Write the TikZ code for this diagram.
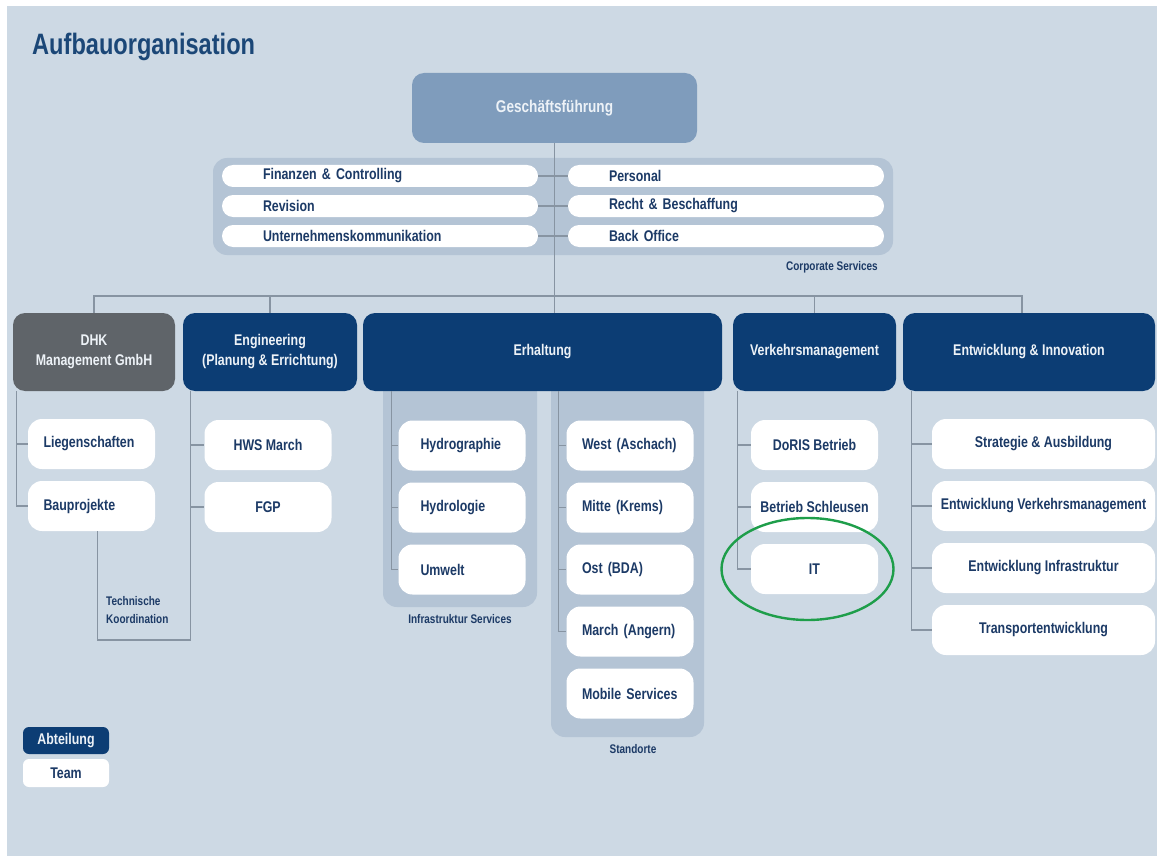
\documentclass[tikz,border=0pt]{standalone}
\usepackage{fontspec}
\setmainfont{Liberation Sans}[FakeStretch=0.8]
\usetikzlibrary{positioning,calc}

\definecolor{hintergrund}{HTML}{CDD9E4}
\definecolor{gruppenblau}{HTML}{B4C4D5}
\definecolor{dunkelblau}{HTML}{0C3D74}
\definecolor{dhkgrau}{HTML}{5F6469}
\definecolor{gfblau}{HTML}{7F9CBC}
\definecolor{liniengrau}{HTML}{8794A2}
\definecolor{teamblau}{HTML}{1C3A66}
\definecolor{titelblau}{HTML}{1B4777}
\definecolor{hellweiss}{HTML}{EDF2F7}
\definecolor{kreisgruen}{HTML}{1E9E4A}

\begin{document}
\begin{tikzpicture}[x=1pt, y=-1pt, node distance=62pt,
    font=\bfseries\fontsize{15.5}{20}\selectfont,
    linie/.style={draw=liniengrau, line width=1.1pt},
    gruppe/.style={fill=gruppenblau, rounded corners=14pt},
    abteilung/.style={fill=dunkelblau, text=hellweiss, rounded corners=12pt,
      minimum height=78pt, minimum width=#1, inner sep=0pt, align=center},
    team/.style={fill=white, text=teamblau, rounded corners=14pt,
      minimum width=#1, minimum height=50pt, inner sep=0pt},
    team/.default=127pt,
    teamlinks/.style={team, inner xsep=15.5pt, text width=96pt, align=left},
    infrateam/.style={team, inner xsep=22pt, text width=83pt, align=left},
    stab/.style={fill=white, text=teamblau, rounded corners=11pt,
      minimum height=22pt, inner ysep=0pt, inner xsep=41pt, text width=234pt, align=left},
    beschriftung/.style={text=teamblau, font=\bfseries\fontsize{12.5}{18}\selectfont, inner sep=0pt}]

  % Hintergrund
  \path[use as bounding box, fill=white] (0,0) rectangle (1157,856);
  \fill[hintergrund] (7,6) rectangle (1157,856);

  \node[anchor=west, text=titelblau, inner sep=0pt,
        font=\bfseries\fontsize{29.5}{34}\selectfont] (titel) at (32,47) {Aufbauorganisation};

  % Gruppen
  \fill[gruppe] (213,158) rectangle (893,255);
  \fill[gruppe] (383,370) rectangle (537,607);
  \fill[gruppe] (551,370) rectangle (704,737);

  % Geschaeftsfuehrung und Stabsstellen
  \node[fill=gfblau, text=hellweiss, rounded corners=12pt, font=\bfseries\fontsize{17}{20}\selectfont,
        minimum width=285pt, minimum height=70pt] (gf) at (554.5,108) {Geschäftsführung};

  \node[stab] (fin)   at (380,176)                          {Finanzen \& Controlling};
  \node[stab] (rev)   [below of=fin, node distance=30pt]    {Revision};
  \node[stab] (uk)    [below of=rev, node distance=30pt]    {Unternehmenskommunikation};
  \node[stab] (pers)  at (726,176)                          {Personal};
  \node[stab] (recht) [below of=pers, node distance=30pt]   {Recht \& Beschaffung};
  \node[stab] (back)  [below of=recht, node distance=30pt]  {Back Office};
  \node[beschriftung, anchor=east] (cs) at (878,267) {Corporate Services};

  % Abteilungen
  \node[abteilung=162pt, fill=dhkgrau] (dhk) at (94,352)    {DHK\\Management GmbH};
  \node[abteilung=174pt]               (eng) at (270,352)   {Engineering\\(Planung \& Errichtung)};
  \node[abteilung=359pt]               (erh) at (542.5,352) {Erhaltung};
  \node[abteilung=163pt]               (vm)  at (814.5,352) {Verkehrsmanagement};
  \node[abteilung=252pt]               (ent) at (1029,352)  {Entwicklung \& Innovation};

  % Teams
  \node[teamlinks] (liegen) at (91.5,444)       {Liegenschaften};
  \node[teamlinks] (bau)    [below of=liegen]   {Bauprojekte};

  \node[team] (hws) at (268,445)  {HWS March};
  \node[team] (fgp) [below of=hws] {FGP};

  \node[infrateam] (hgr) at (462,445.5)  {Hydrographie};
  \node[infrateam] (hlg) [below of=hgr]  {Hydrologie};
  \node[infrateam] (umw) [below of=hlg]  {Umwelt};

  \node[teamlinks] (west)   at (630,445.5)     {West (Aschach)};
  \node[teamlinks] (mitte)  [below of=west]    {Mitte (Krems)};
  \node[teamlinks] (ost)    [below of=mitte]   {Ost (BDA)};
  \node[teamlinks] (march)  [below of=ost]     {March (Angern)};
  \node[teamlinks] (mobile) [below of=march]   {Mobile Services};

  \node[team] (doris)     at (814.5,445)        {DoRIS Betrieb};
  \node[team] (schleusen) [below of=doris]      {Betrieb Schleusen};
  \node[team] (it)        [below of=schleusen]  {IT};

  \node[team=223pt] (strat)  at (1043.5,444)   {Strategie \& Ausbildung};
  \node[team=223pt] (evm)    [below of=strat]  {Entwicklung Verkehrsmanagement};
  \node[team=223pt] (einf)   [below of=evm]    {Entwicklung Infrastruktur};
  \node[team=223pt] (transp) [below of=einf]   {Transportentwicklung};

  \node[beschriftung] (infralabel) at (460,619) {Infrastruktur Services};
  \node[beschriftung] (stlabel)    at (633,749) {Standorte};
  \node[beschriftung, anchor=west, align=left] (tk) at (106,610) {Technische\\Koordination};

  % Legende
  \node[abteilung=86pt, minimum height=27pt, rounded corners=6pt] (legabt)  at (66,740.5) {Abteilung};
  \node[team=86pt, minimum height=28pt, rounded corners=6pt]      (legteam) at (66,773)   {Team};

  % Verbindungen
  \coordinate (bus) at (553,296);
  \coordinate (tkecke) at (150,640);
  \draw[linie] (gf.south) -- (gf.south |- erh.north);
  \draw[linie] (dhk.north) |- (bus) -| ($(ent.north)+(-7,0)$);
  \draw[linie] (eng.north) -- (eng.north |- bus);
  \draw[linie] (vm.north) -- (vm.north |- bus);

  \draw[linie] (fin.east) -- (pers.west);
  \draw[linie] (rev.east) -- (recht.west);
  \draw[linie] (uk.east) -- (back.west);

  \foreach \t in {liegen,bau}
    \draw[linie] ($(dhk.south west)+(4,0)$) |- (\t.west);
  \draw[linie] ($(bau.south)+(6,0)$) |- (tkecke) -| ($(eng.south west)+(8,0)$);
  \foreach \t in {hws,fgp}
    \draw[linie] ($(eng.south west)+(8,0)$) |- (\t.west);
  \foreach \t in {hgr,hlg,umw}
    \draw[linie] ($(erh.south west)+(29,0)$) |- (\t.west);
  \foreach \t in {west,mitte,ost,march}
    \draw[linie] ($(erh.south west)+(196,0)$) |- (\t.west);
  \foreach \t in {doris,schleusen,it}
    \draw[linie] ($(vm.south west)+(5,0)$) |- (\t.west);
  \foreach \t in {strat,evm,einf,transp}
    \draw[linie] ($(ent.south west)+(9,0)$) |- (\t.west);

  % Markierung
  \draw[draw=kreisgruen, line width=2.4pt] ($(it)+(-7,0)$) ellipse [x radius=86pt, y radius=51pt];
\end{tikzpicture}
\end{document}
